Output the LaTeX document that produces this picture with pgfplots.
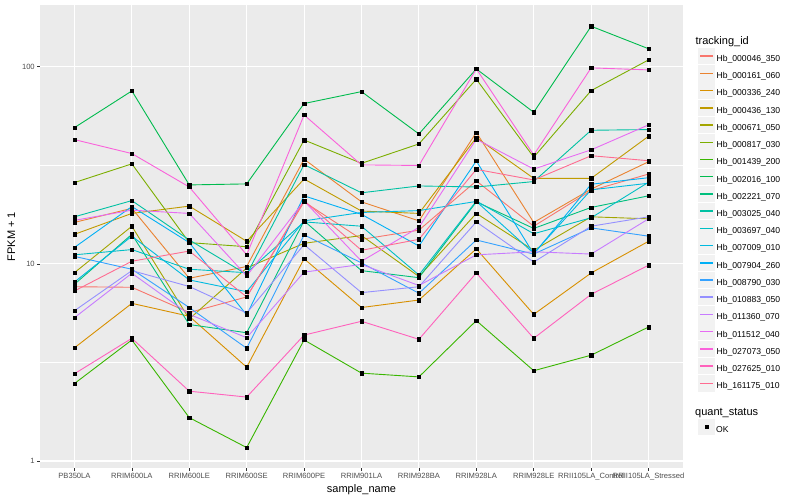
\documentclass[border=0pt]{standalone}
\usepackage{pgfplots}
\usepackage{pgfplotstable}
\pgfplotsset{compat=1.18}
\usepackage{fontspec}
\setmainfont{Liberation Sans}

\definecolor{panelbg}{HTML}{EBEBEB}
\definecolor{keybg}{HTML}{F2F2F2}
\definecolor{grey30}{HTML}{4D4D4D}
\definecolor{grey20}{HTML}{333333}
\definecolor{c1}{HTML}{F8766D}
\definecolor{c2}{HTML}{EA8331}
\definecolor{c3}{HTML}{D89000}
\definecolor{c4}{HTML}{C09B00}
\definecolor{c5}{HTML}{A3A500}
\definecolor{c6}{HTML}{7CAE00}
\definecolor{c7}{HTML}{39B600}
\definecolor{c8}{HTML}{00BB4E}
\definecolor{c9}{HTML}{00BF7D}
\definecolor{c10}{HTML}{00C1A3}
\definecolor{c11}{HTML}{00BFC4}
\definecolor{c12}{HTML}{00BAE0}
\definecolor{c13}{HTML}{00B0F6}
\definecolor{c14}{HTML}{35A2FF}
\definecolor{c15}{HTML}{9590FF}
\definecolor{c16}{HTML}{C77CFF}
\definecolor{c17}{HTML}{E76BF3}
\definecolor{c18}{HTML}{FA62DB}
\definecolor{c19}{HTML}{FF62BC}
\definecolor{c20}{HTML}{FF6C91}

% FPKM + 1, one column per tracking_id, one row per sample
\pgfplotstableread{
x  s1   s2   s3   s4   s5   s6   s7   s8   s9   s10  s11  s12  s13  s14  s15  s16  s17  s18  s19  s20
0  7.65 16.2 3.75 14.1 9.01 25.8 2.47 49.0 7.87 17.3 11.1 8.08 12.1 10.9 5.78 5.33 16.6 42.6 2.77 7.28
1  7.60 19.1 6.30 18.0 15.5 32.1 4.11 75.2 14.1 20.9 11.8 13.8 19.5 9.38 9.23 8.95 18.7 36.2 4.19 10.3
2  5.66 8.44 5.42 19.6 5.25 12.8 1.66 25.1 4.92 13.2 9.38 8.28 12.8 6.00 7.67 5.54 18.0 24.5 2.26 11.6
3  6.79 9.69 2.99 13.0 9.52 12.2 1.17 25.4 4.47 8.83 9.01 7.22 5.50 3.73 5.63 4.22 8.67 11.1 2.11 6.79
4  20.6 33.9 10.6 26.9 12.7 42.4 4.11 64.9 16.5 31.8 16.3 16.5 22.1 14.0 12.5 9.07 20.8 56.8 4.35 20.9
5  13.3 20.6 6.00 18.5 13.9 32.3 2.79 74.6 9.23 22.9 15.5 18.2 17.8 10.1 7.14 9.92 10.3 31.7 5.11 11.7
6  14.8 16.5 6.55 18.0 8.62 40.5 2.67 45.5 8.50 24.8 8.77 18.6 12.3 7.09 7.65 7.76 15.3 31.5 4.14 13.3
7  26.3 46.3 11.9 43.6 18.0 86.2 5.15 97.2 20.6 24.5 20.8 20.7 33.2 13.2 16.3 11.1 42.8 97.2 8.98 30.1
8  15.5 16.2 5.54 27.1 11.7 34.7 2.87 58.6 15.1 26.1 14.2 11.3 11.2 11.2 10.2 11.5 30.2 35.6 4.19 26.6
9  23.5 23.9 8.98 27.1 17.3 75.5 3.44 160  19.3 47.5 17.1 23.7 25.3 15.2 15.5 11.2 37.8 98.4 7.00 35.3
10 28.5 32.9 13.0 44.3 16.9 108  4.78 123  22.1 47.9 25.9 25.6 27.3 13.8 17.3 16.9 50.6 96.1 9.83 33.3
}\data

\begin{document}
\begin{tikzpicture}
\path[use as bounding box] (0,0) rectangle (800pt,500pt);
\begin{axis}[
    at={(40pt,32pt)}, anchor=south west,
    scale only axis, width=643pt, height=463pt,
    xmin=-0.6, xmax=10.6,
    ymode=log, ymin=0.922, ymax=205,
    axis background/.style={fill=panelbg},
    axis line style={draw=none},
    tick pos=left, tick align=outside,
    major tick length=2.75pt, minor tick length=0pt,
    tick style={color=grey20, line width=0.5pt},
    xtick={0,...,10},
    xticklabels={PB350LA, RRIM600LA, RRIM600LE, RRIM600SE, RRIM600PE, RRIM901LA, RRIM928BA, RRIM928LA, RRIM928LE, RRII105LA\_Control, RRII105LA\_Stressed},
    ytick={1,10,100}, yticklabels={1,10,100},
    minor ytick={3.1623,31.623},
    grid=both,
    major grid style={white, line width=1.1pt},
    minor grid style={white, line width=0.55pt},
    tick label style={font=\fontsize{7.6}{9}\selectfont, color=grey30},
    xticklabel style={yshift=1pt},
    yticklabel style={xshift=1pt},
    xlabel={sample\_name}, ylabel={FPKM + 1},
    label style={font=\fontsize{11}{13}\selectfont},
    xlabel style={yshift=3pt},
    ylabel style={yshift=0pt},
    legend cell align=left,
    legend style={at={(axis description cs:1.0234,0.937)}, anchor=north west,
        draw=none, fill=none, inner sep=0pt, row sep=0.2pt,
        font=\fontsize{8.6}{10}\selectfont,
        /tikz/every even column/.append style={column sep=13pt}},
    legend image code/.code={
        \fill[keybg] (0pt,-4.7pt) rectangle (15.5pt,10.7pt);
        \draw[#1, line width=1.5pt] (1.5pt,3pt) -- (14pt,3pt);},
]
\addlegendimage{empty legend}
\pgfplotsinvokeforeach{1,...,20}{
  \addplot[color=c#1, line width=0.9pt, mark=none] table[x=x, y=s#1] {\data};
}
\pgfplotsinvokeforeach{1,...,20}{
  \addplot[only marks, mark=square*, mark size=1.7pt, black, forget plot] table[x=x, y=s#1] {\data};
}
\legend{\hspace{-21pt}\fontsize{11}{13}\selectfont tracking\_id,
  Hb\_000046\_350, Hb\_000161\_060, Hb\_000336\_240, Hb\_000436\_130, Hb\_000671\_050,
  Hb\_000817\_030, Hb\_001439\_200, Hb\_002016\_100, Hb\_002221\_070, Hb\_003025\_040,
  Hb\_003697\_040, Hb\_007009\_010, Hb\_007904\_260, Hb\_008790\_030, Hb\_010883\_050,
  Hb\_011360\_070, Hb\_011512\_040, Hb\_027073\_050, Hb\_027625\_010, Hb\_161175\_010}
\end{axis}
\begin{axis}[
    at={(40pt,32pt)}, anchor=south west,
    scale only axis, width=643pt, height=463pt,
    hide axis, xmin=0, xmax=1, ymin=0, ymax=1,
    legend cell align=left,
    legend style={at={(axis description cs:1.0234,0.134)}, anchor=north west,
        draw=none, fill=none, inner sep=0pt, row sep=0.2pt,
        font=\fontsize{8.6}{10}\selectfont,
        /tikz/every even column/.append style={column sep=13pt}},
    legend image code/.code={
        \fill[keybg] (0pt,-4.7pt) rectangle (15.5pt,10.7pt);
        \draw[#1] plot coordinates {(7.75pt,3pt)};},
]
\addlegendimage{empty legend}
\addlegendentry{\hspace{-21pt}\fontsize{11}{13}\selectfont quant\_status}
\addlegendimage{only marks, mark=square*, mark size=1.5pt, black}
\addlegendentry{OK}
\end{axis}
\end{tikzpicture}
\end{document}
